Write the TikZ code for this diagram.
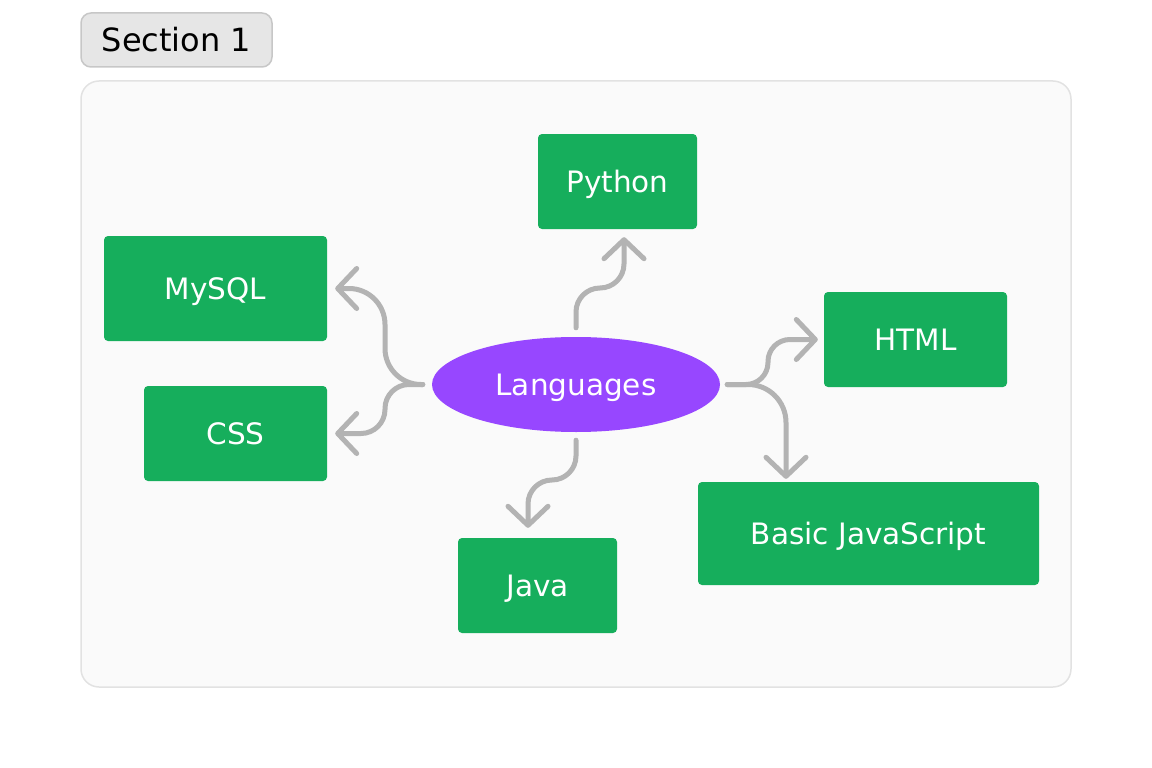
\documentclass[tikz,border=0pt]{standalone}
\usepackage{fontspec}
\setmainfont{DejaVu Sans}
\usetikzlibrary{arrows.meta,shapes.geometric}
\definecolor{boxgreen}{RGB}{22,174,92}
\definecolor{langpurple}{RGB}{151,71,255}
\definecolor{conncol}{RGB}{179,179,179}
\definecolor{panelfill}{RGB}{250,250,250}
\definecolor{panelline}{RGB}{226,226,226}
\definecolor{secfill}{RGB}{230,230,230}
\definecolor{secline}{RGB}{199,199,199}
\tikzset{
  langbox/.style={rectangle, rounded corners=4, fill=boxgreen, text=white, inner sep=0,
    font=\fontsize{29.5}{34}\selectfont, text height=21.5pt, text depth=0pt},
  centre/.style={ellipse, fill=langpurple, text=white, inner sep=0,
    minimum width=288, minimum height=95, font=\fontsize{29.5}{34}\selectfont,
    text height=21.5pt, text depth=0pt},
  conn/.style={draw=conncol, line width=5, line cap=round, line join=round,
    -{Straight Barb[length=19,width=40,round]}},
}
\begin{document}
\begin{tikzpicture}[x=1pt,y=-1pt]
\useasboundingbox (0,0) rectangle (1152,768);
% section label
\node[draw=secline, line width=1.5, fill=secfill, rounded corners=10, inner sep=0,
  minimum width=191, minimum height=54, font=\fontsize{32}{38}\selectfont,
  text height=23.3pt, text depth=0pt]
  (sec) at (176.5,40) {Section 1};
% panel
\draw[draw=panelline, line width=1.5, fill=panelfill, rounded corners=18]
  (81,81) rectangle (1071,687);
% nodes
\node[centre] (lang) at (576,384.5) {Languages};
\node[langbox, minimum width=159, minimum height=95] (py) at (617.5,181.5) {Python};
\node[langbox, minimum width=223, minimum height=105] (mysql) at (215.5,288.5) {MySQL};
\node[langbox, minimum width=183, minimum height=95] (css) at (235.5,433.5) {CSS};
\node[langbox, minimum width=183, minimum height=95] (html) at (915.5,339.5) {HTML};
\node[langbox, minimum width=341, minimum height=103] (js) at (868.5,533.5) {Basic JavaScript};
\node[langbox, minimum width=159, minimum height=95] (java) at (537.5,585.5) {Java};
% connectors
\draw[conn, rounded corners=24, shorten <=9, shorten >=8]
  (lang.north) -- (576,288) -- (624,288) -- ([xshift=6.5]py.south);
\draw[conn, rounded corners=36, shorten <=9, shorten >=8]
  (lang.west) -- (385,384.5) -- (385,288.5) -- (mysql.east);
\draw[conn, rounded corners=24, shorten <=9, shorten >=8]
  (lang.west) -- (385,384.5) -- (385,433.5) -- (css.east);
\draw[conn, rounded corners=22, shorten <=7, shorten >=6]
  (lang.east) -- (768,384.5) -- (768,339.5) -- (html.west);
\draw[conn, rounded corners=38, shorten <=7, shorten >=3]
  (lang.east) -- (786,384.5) -- ([xshift=-82.5]js.north);
\draw[conn, rounded corners=24, shorten <=8, shorten >=10]
  (lang.south) -- (576,480) -- (528,480) -- ([xshift=-9.5]java.north);
\end{tikzpicture}
\end{document}
